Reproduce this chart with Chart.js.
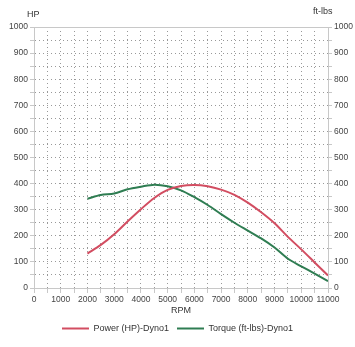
<!DOCTYPE html>
<html>
<head>
<meta charset="utf-8">
<script src="https://cdn.jsdelivr.net/npm/chart.js@4"></script>
<style>
    body { margin: 0; background: #fff; }
    #wrap { position: relative; width: 355px; height: 347px; }
    .unit { position: absolute; font: 9px 'Liberation Sans', Arial, sans-serif; color: #333; }
</style>
</head>
<body>
<div id="wrap">
    <canvas id="dynoChart" width="355" height="347"></canvas>
    <span class="unit" style="left:27px; top:9px;">HP</span>
    <span class="unit" style="left:313px; top:6px;">ft-lbs</span>
</div>
<script>
// ---------- Data ----------
const rpm = [2000, 2500, 3000, 3500, 4000, 4500, 5000, 5500, 6000, 6500,
             7000, 7500, 8000, 8500, 9000, 9500, 10000, 10500, 11000];
const powerHp = [132, 165, 206, 255, 302, 345, 376, 391, 395, 390,
                 377, 357, 327, 290, 248, 196, 148, 98, 48];
const torqueFtLbs = [342, 356, 362, 378, 388, 396, 390, 374, 348, 318,
                     283, 250, 220, 190, 155, 112, 83, 55, 26];

const FONT = "'Liberation Sans', Arial, sans-serif";
const RED = '#d24d61';
const GREEN = '#2f7d52';
const AXIS = '#c8c8c8';

const toPoints = (vals) => rpm.map((r, i) => ({ x: r, y: vals[i] }));

// ---------- Chart ----------
const canvas = document.getElementById('dynoChart');

new Chart(canvas, {
    type: 'line',
    data: {
        datasets: [
            {
                label: 'Power (HP)-Dyno1',
                data: toPoints(powerHp),
                borderColor: RED,
                backgroundColor: RED,
                borderWidth: 2,
                tension: 0.3,
                pointRadius: 0,
                yAxisID: 'y',
            },
            {
                label: 'Torque (ft-lbs)-Dyno1',
                data: toPoints(torqueFtLbs),
                borderColor: GREEN,
                backgroundColor: GREEN,
                borderWidth: 2,
                tension: 0.3,
                pointRadius: 0,
                yAxisID: 'y1',
            },
        ],
    },
    options: {
        responsive: false,
        animation: false,
        layout: { padding: { top: 27, left: 0, right: 0, bottom: 4 } },
        plugins: {
            tooltip: { enabled: false },
            legend: {
                position: 'bottom',
                labels: {
                    color: '#333',
                    font: { size: 9, family: FONT },
                    usePointStyle: true,
                    pointStyle: 'line',
                    pointStyleWidth: 27,
                    padding: 8,
                },
            },
        },
        scales: {
            x: {
                type: 'linear',
                min: 0,
                max: 11000,
                afterFit: (s) => { s.height = 28; },
                ticks: {
                    stepSize: 500,
                    autoSkip: false,
                    maxRotation: 0,
                    padding: 2,
                    color: '#444',
                    font: { size: 8.5, family: FONT },
                    callback: (v) => (v % 1000 === 0 ? v : ''),
                },
                grid: { color: '#999', tickColor: AXIS, tickLength: 5, tickBorderDash: [] },
                border: { color: AXIS, dash: [1, 3] },
                title: {
                    display: true,
                    text: 'RPM',
                    color: '#333',
                    font: { size: 9, family: FONT },
                    padding: { top: 2, bottom: 0 },
                },
            },
            xTop: {
                type: 'linear',
                position: 'top',
                min: 0,
                max: 11000,
                ticks: { display: false },
                grid: { drawOnChartArea: false, drawTicks: false },
                border: { color: AXIS },
            },
            y: {
                position: 'left',
                min: 0,
                max: 1000,
                afterFit: (s) => { s.width = 34; },
                ticks: {
                    stepSize: 50,
                    autoSkip: false,
                    padding: 2,
                    color: '#444',
                    font: { size: 8.5, family: FONT },
                    callback: (v) => (v % 100 === 0 ? v : ''),
                },
                grid: { color: '#999', tickColor: AXIS, tickLength: 4, tickBorderDash: [] },
                border: { color: AXIS, dash: [1, 3] },
            },
            y1: {
                position: 'right',
                min: 0,
                max: 1000,
                afterFit: (s) => { s.width = 27; },
                ticks: {
                    stepSize: 50,
                    autoSkip: false,
                    padding: 2,
                    color: '#444',
                    font: { size: 8.5, family: FONT },
                    callback: (v) => (v % 100 === 0 ? v : ''),
                },
                grid: { drawOnChartArea: false, tickColor: AXIS, tickLength: 4 },
                border: { color: AXIS },
            },
        },
    },
});
</script>
</body>
</html>
